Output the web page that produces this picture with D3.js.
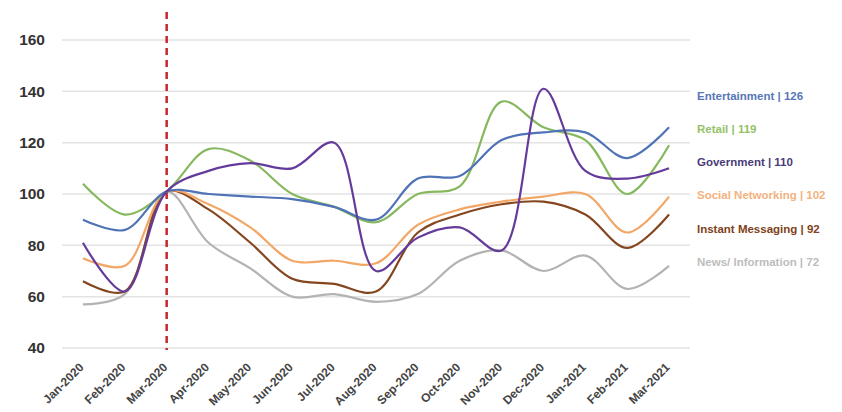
<!DOCTYPE html>
<html><head><meta charset="utf-8">
<script src="https://cdn.jsdelivr.net/npm/d3@7"></script>
<style>body{margin:0;background:#fff}svg{display:block}</style>
</head><body><svg id="c" width="842" height="412"></svg>
<script>
const months = ["Jan-2020","Feb-2020","Mar-2020","Apr-2020","May-2020","Jun-2020","Jul-2020","Aug-2020","Sep-2020","Oct-2020","Nov-2020","Dec-2020","Jan-2021","Feb-2021","Mar-2021"];
const yTicks = [40,60,80,100,120,140,160];
const seriesNames = ["Entertainment","Retail","Government","Social Networking","Instant Messaging","News/ Information"];
const legendLabels = ["Entertainment | 126","Retail | 119","Government | 110","Social Networking | 102","Instant Messaging | 92","News/ Information | 72"];
const entertainment = [90,86,101,100,99,98,95,90,106,107,121,124,124,114,126];
const retail =        [104,92,101,117.5,113,100,95,89,100,103,136,126,121,100,119];
const government =    [81,62,101,109,112,110,120,70,83,87,78,141,109,106,110];
const socialNet =     [75,72,101,96,87,74,74,73,88,94,97,99,100,85,99];
const instantMsg =    [66,62,101,94,81,67,65,62,85,92,96,97,92,79,92];
const news =          [57,61,101,81,71,60,61,58,61,74,78,70,76,63,72];
const eventMonth = "Mar-2020";

const colors = ["#4f73b6","#86b85e","#643a9a","#f2a767","#84461f","#b3b3b3"];
const labelColors = ["#5677b8","#93c268","#4a3c7a","#f4b27e","#7e4220","#bdbdbd"];
const allSeries = [entertainment, retail, government, socialNet, instantMsg, news];
const font = "Liberation Sans, Arial, sans-serif";

const svg = d3.select("#c");
const x = d3.scalePoint().domain(months).range([62, 690]).padding(0.5);
const y = d3.scaleLinear().domain([40, 160]).range([348, 40]);

// gridlines
svg.append("g").selectAll("line").data(yTicks).join("line")
  .attr("x1", 62).attr("x2", 690)
  .attr("y1", d => y(d)).attr("y2", d => y(d))
  .attr("stroke", "#e3e3e3").attr("stroke-width", 1.5);

// y axis labels
const yAxis = d3.axisLeft(y).tickValues(yTicks).tickSize(0).tickPadding(0);
const gy = svg.append("g").attr("transform", "translate(45,0)").call(yAxis);
gy.select(".domain").remove();
gy.selectAll("text").attr("font-family", font)
  .attr("font-size", 15.5).attr("font-weight", "bold").attr("fill", "#333");

// x axis labels
const xAxis = d3.axisBottom(x).tickSize(0).tickPadding(0);
const gx = svg.append("g").attr("transform", "translate(0,352)").call(xAxis);
gx.select(".domain").remove();
gx.selectAll("text")
  .attr("font-family", font)
  .attr("font-size", 12).attr("font-weight", "bold").attr("fill", "#444")
  .attr("text-anchor", "end").attr("x", 0).attr("y", 0).attr("dy", 0)
  .attr("transform", "translate(1,16) rotate(-45)");

// event line
svg.append("line")
  .attr("x1", x(eventMonth)).attr("x2", x(eventMonth))
  .attr("y1", 12).attr("y2", 350)
  .attr("stroke", "#c8262a").attr("stroke-width", 2.5)
  .attr("stroke-dasharray", "7,5");

// lines
const line = d3.line()
  .x((d, i) => x(months[i]))
  .y(d => y(d))
  .curve(d3.curveCatmullRom.alpha(0.5));

const order = [5, 4, 3, 1, 0, 2];
svg.append("g").selectAll("path").data(order).join("path")
  .attr("d", k => line(allSeries[k]))
  .attr("fill", "none")
  .attr("stroke", k => colors[k])
  .attr("stroke-width", 2.2)
  .attr("stroke-linejoin", "round");

// legend labels
svg.append("g").selectAll("text").data(legendLabels).join("text")
  .attr("x", 697)
  .attr("y", (d, i) => 95.5 + i * 33.3)
  .attr("dy", "0.35em")
  .attr("font-family", font)
  .attr("font-size", 11.5).attr("font-weight", "bold")
  .attr("fill", (d, i) => labelColors[i])
  .text(d => d);
</script></body></html>
